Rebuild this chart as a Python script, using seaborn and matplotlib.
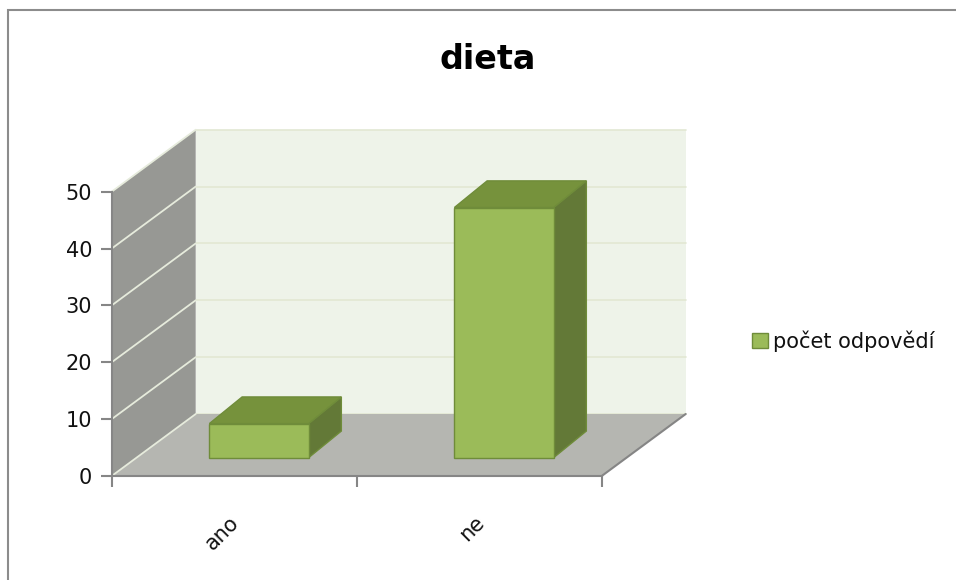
import numpy as np
import pandas as pd
import seaborn as sns
import matplotlib
matplotlib.use("Agg")
import matplotlib.pyplot as plt
from matplotlib.patches import Polygon, Rectangle, Patch
import matplotlib.transforms as mtransforms

# ---- data ----
categories = ["ano", "ne"]
values = [6, 44]
series_name = "počet odpovědí"
title = "dieta"
yticks = [0, 10, 20, 30, 40, 50]

sns.set_theme(style="white")
plt.rcParams['font.family'] = ['DejaVu Sans']

W, H = 956, 580
fig = plt.figure(figsize=(W / 100, H / 100), dpi=100)
fig.patch.set_facecolor("white")
ax = fig.add_axes([111.7 / W, 104 / H, 490 / W, 284.3 / H])
ax.patch.set_visible(False)

df = pd.DataFrame({"cat": categories, "val": values})
sns.barplot(data=df, x="cat", y="val", width=0.405, color="#9BBB59",
            saturation=1, ax=ax, zorder=5)
ax.set_xlim(-0.5, 1.5)
ax.set_ylim(0, 50)

# oblique depth (data units)
DX, DY = 84 / 245, 62 / 5.686
OX, OY = 0.295 * DX, 0.295 * DY      # bar front plane offset
BX, BY = 0.39 * DX, 0.43 * DY        # bar depth

x0, x1 = -0.5, 1.5
top = yticks[-1]
# walls and floor
floor = Polygon([(x0, 0), (x1, 0), (x1 + DX, DY), (x0 + DX, DY)],
                closed=True, fc="#B5B6B1", ec="none", zorder=0.5, clip_on=False)
back = Polygon([(x0 + DX, DY), (x1 + DX, DY), (x1 + DX, DY + top), (x0 + DX, DY + top)],
               closed=True, fc="#EEF3E9", ec="none", zorder=0.4, clip_on=False)
side = Polygon([(x0, 0), (x0, top), (x0 + DX, top + DY), (x0 + DX, DY)],
               closed=True, fc="#979894", ec="none", zorder=0.6, clip_on=False)
for p in (back, floor, side):
    ax.add_patch(p)
for t in yticks:
    ax.plot([x0 + DX, x1 + DX], [t + DY, t + DY], color="#E2E8D3", lw=1.2,
            zorder=0.45, clip_on=False)
    ax.plot([x0, x0 + DX], [t, t + DY], color="#E6EBDC", lw=1.3,
            zorder=0.7, clip_on=False)
ax.plot([x1, x1 + DX], [0, DY], color="#858585", lw=1.5, zorder=0.8, clip_on=False)

# bars: shift front faces, add top and side faces
edge = "#6F8C3A"
shift = mtransforms.Affine2D().translate(OX, OY) + ax.transData
for p in list(ax.patches):
    if p in (floor, back, side):
        continue
    bx, bw, bh = p.get_x(), p.get_width(), p.get_height()
    p.set_transform(shift)
    p.set_clip_on(False)
    p.set_edgecolor(edge)
    p.set_linewidth(1.0)
    p.set_zorder(5)
    sface = Polygon([(bx + bw + OX, OY), (bx + bw + OX + BX, OY + BY),
                     (bx + bw + OX + BX, bh + OY + BY), (bx + bw + OX, bh + OY)],
                    closed=True, fc="#637937", ec=edge, lw=1.0, zorder=4, clip_on=False)
    tface = Polygon([(bx + OX, bh + OY), (bx + bw + OX, bh + OY),
                     (bx + bw + OX + BX, bh + OY + BY), (bx + OX + BX, bh + OY + BY)],
                    closed=True, fc="#76923C", ec=edge, lw=1.0, zorder=4, clip_on=False)
    ax.add_patch(sface)
    ax.add_patch(tface)

# axes styling
for s in ("top", "right"):
    ax.spines[s].set_visible(False)
for s in ("left", "bottom"):
    ax.spines[s].set_color("#868686")
    ax.spines[s].set_linewidth(1.5)
    ax.spines[s].set_zorder(1)
ax.set_yticks(yticks)
ax.set_yticklabels([str(t) for t in yticks])
ax.tick_params(axis="y", length=8, width=1.5, color="#868686", pad=6,
               labelsize=15, labelcolor="#111111", left=True)
ax.set_xticks(range(len(categories)))
ax.set_xticklabels(categories, rotation=45, ha="right", va="center",
                   rotation_mode="anchor")
ax.set_xticks([x0, 0.5, x1], minor=True)
ax.tick_params(axis="x", which="major", length=0, pad=31, labelsize=15,
               labelcolor="#111111")
ax.tick_params(axis="x", which="minor", length=8, width=1.5, color="#868686",
               bottom=True)
off = mtransforms.ScaledTranslation(0.02, 0, fig.dpi_scale_trans)
for lab in ax.get_xticklabels():
    lab.set_transform(lab.get_transform() + off)
ax.set_xlabel("")
ax.set_ylabel("")

# title
fig.text(487.5 / W, 1 - 69.3 / H, title, ha="center", va="baseline",
         fontsize=24, fontweight="bold", color="black")

# legend
handle = Patch(facecolor="#9BBB59", edgecolor=edge, label=series_name)
leg = fig.legend(handles=[handle], loc="center left",
                 bbox_to_anchor=(752 / W, 1 - 341 / H), frameon=False,
                 fontsize=15, handlelength=0.75, handleheight=0.75,
                 handletextpad=0.25, borderpad=0, borderaxespad=0)
for t in leg.get_texts():
    t.set_color("#111111")

# outer border
fig.add_artist(Rectangle((8 / W, -0.1), 1.2, 1 - 10 / H + 0.1,
                         transform=fig.transFigure, fill=False,
                         ec="#8C8C8C", lw=1.5))

fig.savefig("out.png", dpi=100)
